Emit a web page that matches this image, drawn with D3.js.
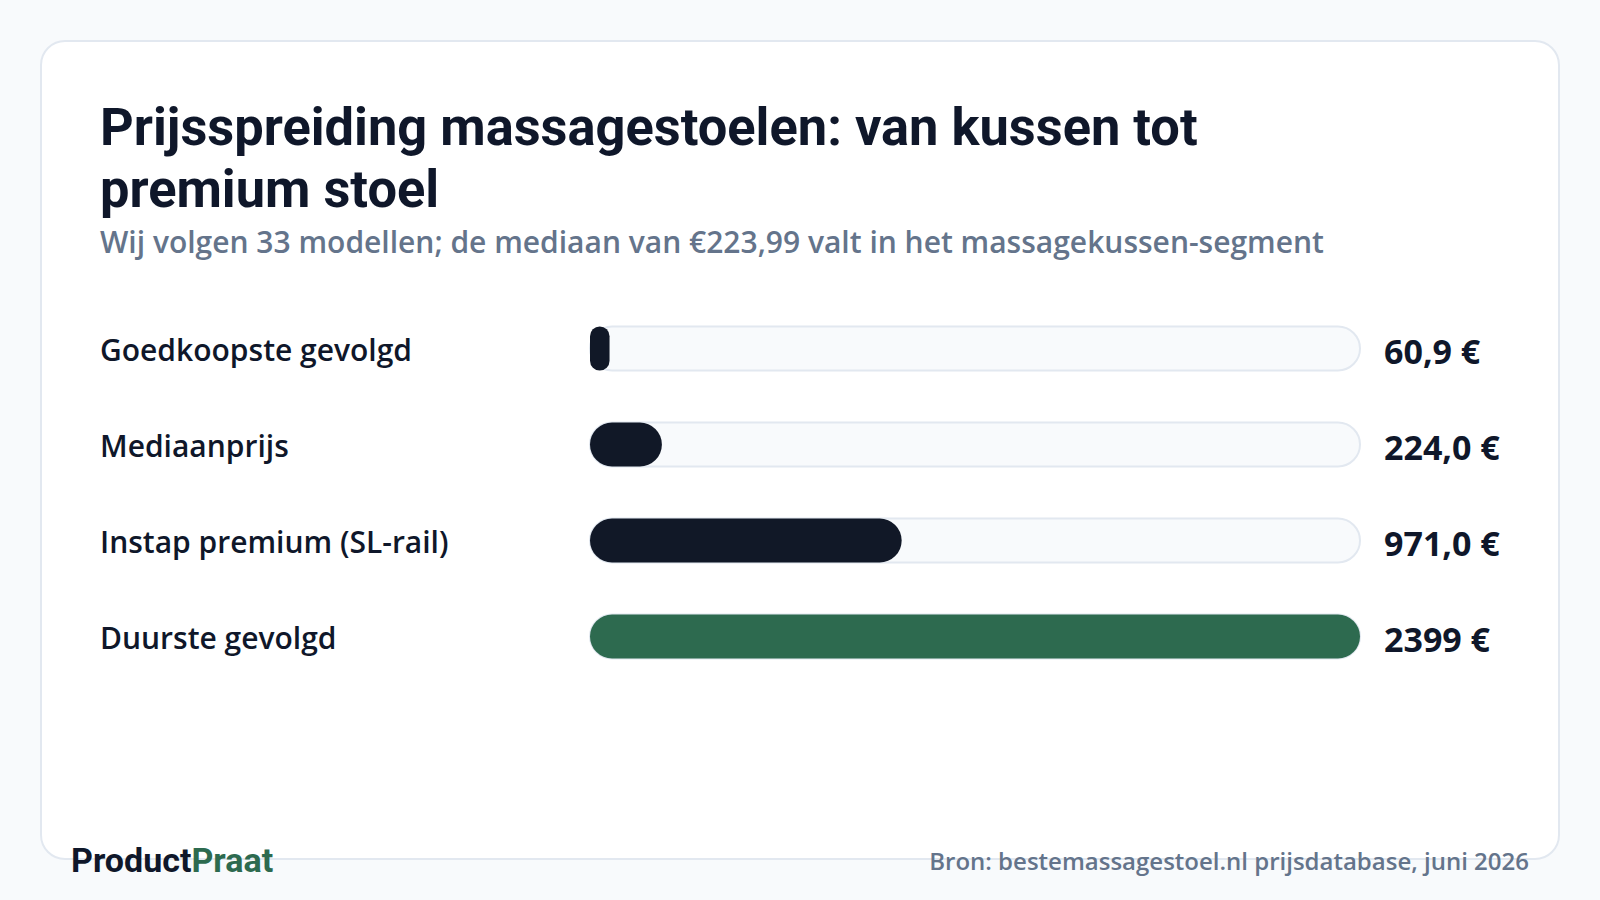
<!DOCTYPE html>
<html>
<head>
<meta charset="utf-8">
<script src="https://cdn.jsdelivr.net/npm/d3@7"></script>
<style>
  html, body { margin: 0; padding: 0; background: #f8fafc; }
  svg { display: block; }
</style>
</head>
<body>
<svg id="chart" width="1600" height="900"></svg>
<script>
// Data
const categories = ['Goedkoopste gevolgd', 'Mediaanprijs', 'Instap premium (SL-rail)', 'Duurste gevolgd'];
const prices = [60.9, 224.0, 971.0, 2399];
const valueLabels = ['60,9 €', '224,0 €', '971,0 €', '2399 €'];
const highlight = [false, false, false, true];

const titleLines = ['Prijsspreiding massagestoelen: van kussen tot', 'premium stoel'];
const subtitle = 'Wij volgen 33 modellen; de mediaan van €223,99 valt in het massagekussen-segment';
const sourceText = 'Bron: bestemassagestoel.nl prijsdatabase, juni 2026';

const colors = {
  bg: '#f8fafc',
  card: '#ffffff',
  border: '#e2e8f0',
  ink: '#0f172a',
  muted: '#64748b',
  bar: '#111827',
  green: '#2d6a4f',
  track: '#f8fafc'
};

const svg = d3.select('#chart');

// background + card
svg.append('rect').attr('width', 1600).attr('height', 900).attr('fill', colors.bg);
svg.append('rect')
  .attr('x', 41).attr('y', 41).attr('width', 1518).attr('height', 818)
  .attr('rx', 24)
  .attr('fill', colors.card)
  .attr('stroke', colors.border).attr('stroke-width', 2);

// title
svg.append('text')
  .attr('font-family', 'Roboto').attr('font-weight', 700).attr('font-size', 52.4)
  .attr('fill', colors.ink)
  .selectAll('tspan')
  .data(titleLines)
  .enter().append('tspan')
    .attr('x', 100)
    .attr('y', (d, i) => 145 + i * 62)
    .text(d => d);

svg.append('text')
  .attr('x', 100).attr('y', 253)
  .attr('font-family', 'Open Sans').attr('font-weight', 600).attr('font-size', 30)
  .attr('fill', colors.muted)
  .text(subtitle);

// scales
const x = d3.scaleLinear()
  .domain([0, d3.max(prices)])
  .range([590, 1360]);

const y = d3.scaleBand()
  .domain(categories)
  .range([300.5, 684.5])
  .paddingInner(0.54)
  .paddingOuter(0.27);

const barH = 44;

const rows = svg.append('g').attr('class', 'rows')
  .selectAll('g')
  .data(categories)
  .enter().append('g')
    .attr('transform', d => `translate(0, ${ y(d) + y.bandwidth() / 2 })`);

rows.append('text')
  .attr('x', 100).attr('dy', 12.5)
  .attr('font-family', 'Open Sans').attr('font-weight', 600).attr('font-size', 30)
  .attr('fill', colors.ink)
  .text(d => d);

rows.append('rect')
  .attr('x', x(0)).attr('y', -barH / 2)
  .attr('width', x.range()[1] - x(0)).attr('height', barH)
  .attr('rx', barH / 2)
  .attr('fill', colors.track)
  .attr('stroke', colors.border).attr('stroke-width', 2);

rows.append('rect')
  .attr('x', x(0)).attr('y', -barH / 2)
  .attr('width', (d, i) => x(prices[i]) - x(0))
  .attr('height', barH)
  .attr('rx', (d, i) => Math.min(barH / 2, (x(prices[i]) - x(0)) / 2))
  .attr('fill', (d, i) => highlight[i] ? colors.green : colors.bar);

rows.append('text')
  .attr('x', 1384).attr('dy', 15.5)
  .attr('font-family', 'Open Sans').attr('font-weight', 700).attr('font-size', 34)
  .attr('fill', colors.ink)
  .text((d, i) => valueLabels[i]);

// footer
const brand = svg.append('text')
  .attr('x', 71).attr('y', 872)
  .attr('font-family', 'Roboto').attr('font-weight', 700).attr('font-size', 34);
brand.append('tspan').attr('fill', colors.ink).text('Product');
brand.append('tspan').attr('fill', colors.green).text('Praat');

svg.append('text')
  .attr('x', 1529).attr('y', 870)
  .attr('text-anchor', 'end')
  .attr('font-family', 'Open Sans').attr('font-weight', 600).attr('font-size', 24)
  .attr('fill', colors.muted)
  .text(sourceText);
</script>
</body>
</html>
